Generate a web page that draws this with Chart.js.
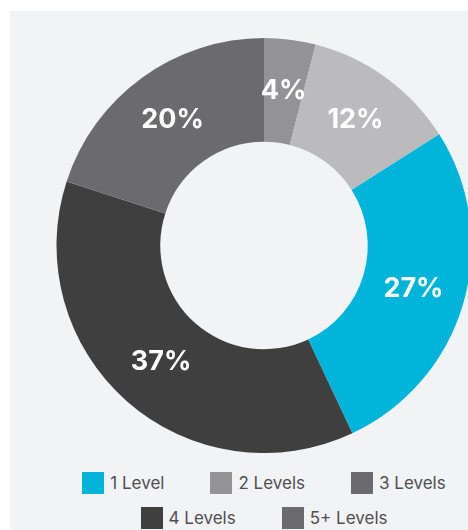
<!DOCTYPE html>
<html>
<head>
<meta charset="utf-8">
<script src="https://cdn.jsdelivr.net/npm/chart.js@4/dist/chart.umd.min.js"></script>
<style>
  html, body { margin: 0; padding: 0; background: #ffffff; overflow: hidden; }
  body { width: 468px; height: 530px; position: relative; }
  #panel {
    position: absolute; left: 10px; top: 11px; width: 458px; height: 519px;
    background: #f2f3f5; overflow: hidden;
  }
  #chartBox { position: absolute; left: 0; top: 0; width: 508px; height: 442px; }
  #legend {
    position: absolute; left: 39px; top: 461px; width: 430px;
    display: flex; flex-wrap: wrap; justify-content: center;
    column-gap: 46px; row-gap: 13px;
    font-family: Inter, "Open Sans", sans-serif; font-size: 17px; color: #4f4f52;
  }
  .item { display: flex; align-items: center; height: 22px; }
  .swatch { width: 22px; height: 22px; margin-right: 6px; }
</style>
</head>
<body>
<div id="panel">
  <div id="chartBox"><canvas id="levels"></canvas></div>
  <div id="legend"></div>
</div>
<script>
// Slices, clockwise from twelve o'clock
const sliceLabels = ['5+ Levels', '2 Levels', '1 Level', '4 Levels', '3 Levels'];
const sliceValues = [4, 12, 27, 37, 20];
const sliceColors = ['#939397', '#bbbbbe', '#00b5d9', '#3f3f3f', '#6b6b6f'];

// Legend entries
const legendLabels = ['1 Level', '2 Levels', '3 Levels', '4 Levels', '5+ Levels'];
const legendColors = ['#00b5d9', '#939396', '#6b6b6f', '#3f3f3f', '#6b6b6f'];

// Writes each slice's percentage at the middle of its arc
const percentLabels = {
  id: 'percentLabels',
  afterDatasetsDraw(chart) {
    const ctx = chart.ctx;
    const meta = chart.getDatasetMeta(0);
    ctx.save();
    ctx.fillStyle = '#ffffff';
    ctx.font = '700 27px Inter, "Open Sans", sans-serif';
    ctx.textAlign = 'center';
    ctx.textBaseline = 'middle';
    meta.data.forEach((arc, i) => {
      const p = arc.tooltipPosition();
      ctx.fillText(chart.data.datasets[0].data[i] + '%', p.x, p.y);
    });
    ctx.restore();
  }
};

new Chart(document.getElementById('levels'), {
  type: 'doughnut',
  data: {
    labels: sliceLabels,
    datasets: [{
      data: sliceValues,
      backgroundColor: sliceColors,
      borderWidth: 0
    }]
  },
  options: {
    responsive: true,
    maintainAspectRatio: false,
    animation: false,
    cutout: '50%',
    layout: { padding: { top: 27, bottom: 0, left: 0, right: 0 } },
    plugins: {
      legend: { display: false },
      tooltip: { enabled: false }
    }
  },
  plugins: [percentLabels]
});

// Legend below the ring
const legend = document.getElementById('legend');
legendLabels.forEach((label, i) => {
  const item = document.createElement('div');
  item.className = 'item';
  const sw = document.createElement('span');
  sw.className = 'swatch';
  sw.style.background = legendColors[i];
  const tx = document.createElement('span');
  tx.textContent = label;
  item.appendChild(sw);
  item.appendChild(tx);
  legend.appendChild(item);
});
</script>
</body>
</html>
